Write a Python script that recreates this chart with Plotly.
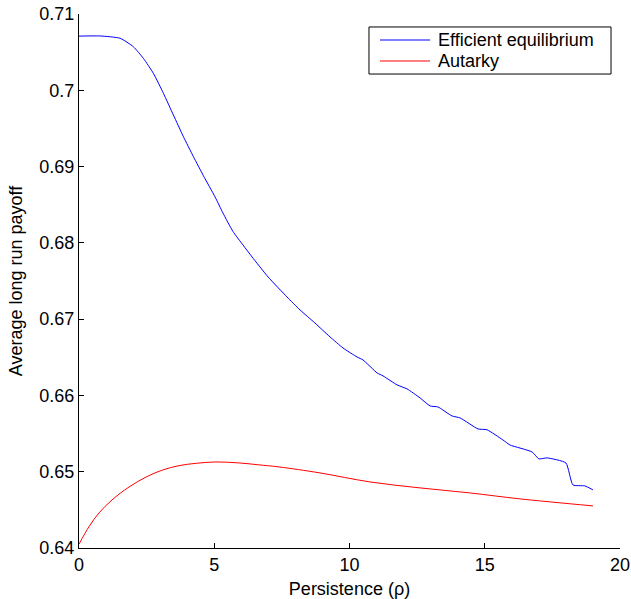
import plotly.graph_objects as go

# Data
eff_x = [0, 0.78, 1.52, 2.01, 2.38, 2.75, 3.12, 3.49, 3.86, 4.23, 4.60, 5.03,
         5.32, 5.69, 6.06, 6.40, 6.99, 7.69, 8.17, 8.72, 9.28, 9.76, 10.28, 10.50,
         11.02, 11.24, 11.76, 12.13, 12.61, 12.98, 13.27, 13.79, 14.09, 14.75, 15.08,
         15.67, 15.93, 16.75, 17.0, 17.3, 18.0, 18.26, 18.7, 19.0]
eff_y = [0.7071, 0.70712, 0.70682, 0.70571, 0.70419, 0.70222, 0.69961, 0.69676,
         0.69392, 0.69130, 0.68880, 0.68602, 0.68392, 0.68150, 0.67973,
         0.67815, 0.67553, 0.67291, 0.67121, 0.66950, 0.66767, 0.66622, 0.66504, 0.66465,
         0.66295, 0.66256, 0.66138, 0.66085, 0.65967, 0.65862, 0.65849, 0.65731, 0.65705,
         0.65561, 0.65550, 0.65417, 0.65351, 0.65259, 0.65168, 0.65181, 0.65115, 0.64827,
         0.64814, 0.64762]

aut_x = [0, 0.37, 0.74, 1.22, 1.85, 2.48, 3.07, 3.70, 4.33, 5.06, 5.92, 6.65, 7.39,
         8.91, 10.76, 12.6, 14.45, 16.3, 19.0]
aut_y = [0.6405, 0.6428, 0.6446, 0.6463, 0.6480, 0.6493, 0.6502, 0.6508, 0.6511,
         0.65128, 0.65115, 0.6509, 0.65063, 0.64984, 0.64866, 0.64788, 0.64722, 0.64644,
         0.64552]

series_names = ["Efficient equilibrium", "Autarky"]
series_colors = ["#0000FF", "#FF0000"]

x_ticks = [0, 5, 10, 15, 20]
y_ticks = [0.64, 0.65, 0.66, 0.67, 0.68, 0.69, 0.70, 0.71]
y_tick_labels = ["0.64", "0.65", "0.66", "0.67", "0.68", "0.69", "0.7", "0.71"]

FAM = "Liberation Sans, Arial, sans-serif"
font = dict(family=FAM, size=18, color="black")

fig = go.Figure()
fig.add_trace(go.Scatter(x=eff_x, y=eff_y, mode="lines", name=series_names[0],
                         line=dict(color=series_colors[0], width=1, shape="spline", smoothing=0.5)))
fig.add_trace(go.Scatter(x=aut_x, y=aut_y, mode="lines", name=series_names[1],
                         line=dict(color=series_colors[1], width=1, shape="spline", smoothing=1.0)))

# Legend box drawn in the MATLAB style (compact rows)
leg_x0, leg_x1, leg_y0, leg_y1 = 0.536, 0.9834, 0.8876, 0.9757
row_y = [0.9513, 0.9120]
shapes = [dict(type="rect", xref="paper", yref="paper", x0=leg_x0, x1=leg_x1,
               y0=leg_y0, y1=leg_y1, line=dict(color="black", width=1),
               fillcolor="white", layer="above")]
annotations = []
for name, col, ry in zip(series_names, series_colors, row_y):
    shapes.append(dict(type="line", xref="paper", yref="paper", x0=0.5564, x1=0.6488,
                       y0=ry, y1=ry, line=dict(color=col, width=1), layer="above"))
    annotations.append(dict(xref="paper", yref="paper", x=0.6599, y=ry, text=name,
                            xanchor="left", yanchor="middle", showarrow=False, font=font))

fig.update_layout(
    width=631, height=599,
    margin=dict(l=79, r=11, t=14, b=51),
    paper_bgcolor="white", plot_bgcolor="white",
    font=font,
    showlegend=False,
    shapes=shapes,
    annotations=annotations,
    xaxis=dict(range=[0, 20], tickvals=x_ticks, ticks="inside", ticklen=5,
               tickcolor="black", showline=True, linecolor="black", linewidth=1,
               showgrid=False, zeroline=False, mirror=False, automargin=False,
               tickfont=font,
               title=dict(text="Persistence (ρ)", standoff=9, font=font)),
    yaxis=dict(range=[0.64, 0.71], tickvals=y_ticks, ticktext=y_tick_labels,
               ticks="inside", ticklen=5, tickcolor="black", showline=True,
               linecolor="black", linewidth=1, showgrid=False, zeroline=False,
               automargin=False, tickfont=font,
               title=dict(text="Average long run payoff", standoff=12, font=font)),
)

fig.write_html("out.html", config={"displayModeBar": False},
               post_script="document.body.style.margin='0';document.body.style.overflow='hidden';")
